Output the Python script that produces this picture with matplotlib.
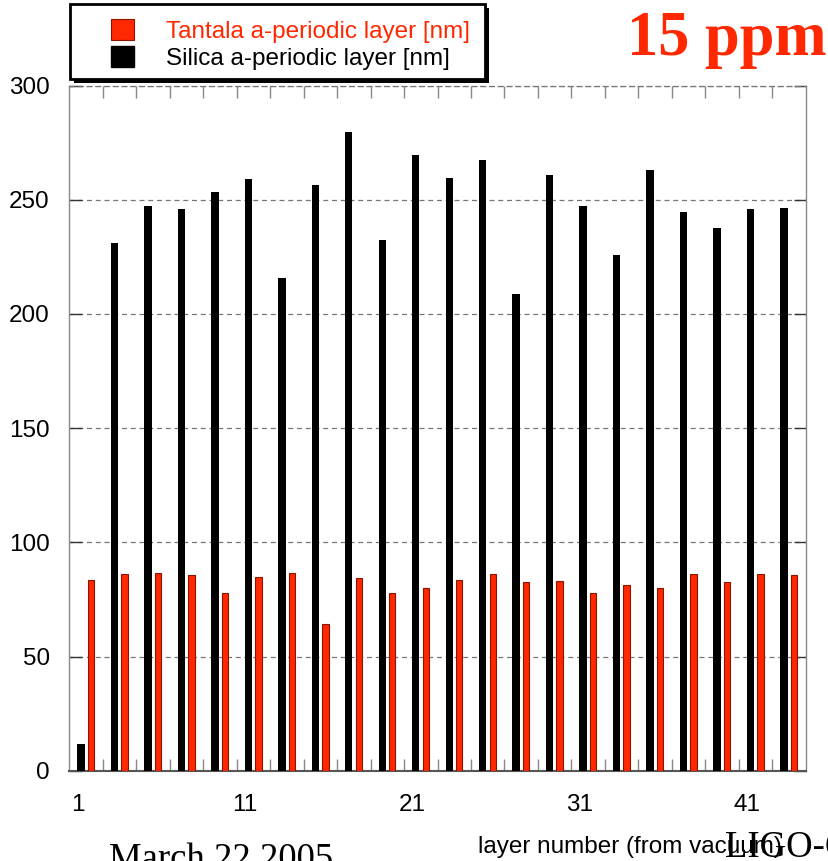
import numpy as np
import matplotlib
matplotlib.use("Agg")
import matplotlib.pyplot as plt
from matplotlib.patches import Patch, Rectangle

plt.rcParams['font.family'] = ['Liberation Sans', 'DejaVu Sans']

# layer thicknesses of the a-periodic stack, numbered from vacuum
silica_layers = np.arange(1, 44, 2)
tantala_layers = np.arange(2, 45, 2)
silica_nm = [11.7, 231.0, 247.1, 246.0, 253.5, 259.2, 215.9, 256.5, 279.7, 232.5, 269.6,
             259.6, 267.5, 208.5, 260.9, 247.4, 225.9, 262.8, 244.7, 237.7, 246.0, 246.5]
tantala_nm = [83.7, 86.3, 86.4, 85.6, 77.7, 84.6, 86.7, 64.4, 84.3, 78.0, 80.2,
              83.5, 86.0, 82.4, 83.1, 78.0, 81.1, 80.2, 86.0, 82.4, 86.0, 85.6]
xtick_labels = [1, 11, 21, 31, 41]

RED = '#ff2800'
W, H = 829, 861

fig = plt.figure(figsize=(W / 100, H / 100), dpi=100)
ax = fig.add_axes([69.3 / W, 1 - 770.7 / H, (805.7 - 69.3) / W, (770.7 - 85.5) / H])

ax.bar(silica_layers + 0.2, silica_nm, width=0.44, color='black', zorder=3)
ax.bar(tantala_layers - 0.2, tantala_nm, width=0.38, color=RED,
       edgecolor='#8a1500', linewidth=0.8, zorder=3)

ax.set_xlim(0.5, 44.5)
ax.set_ylim(0, 300)
ax.set_yticks(np.arange(0, 301, 50))
ax.set_xticks(xtick_labels)
ax.set_xticks(np.arange(2.5, 43, 2), minor=True)

ax.yaxis.grid(True, linestyle=(0, (4, 3)), color='#777777', linewidth=0.9)
ax.set_axisbelow(True)

ax.tick_params(axis='y', which='major', direction='in', length=9, width=1,
               color='#333333', left=True, right=True, labelsize=17.5, pad=14)
ax.tick_params(axis='x', which='major', length=0, labelsize=17.5, pad=17)
ax.tick_params(axis='x', which='minor', direction='in', length=8.6, width=1,
               color='#888888', top=True, bottom=True)

for side in ('left', 'right'):
    ax.spines[side].set_color('#888888')
    ax.spines[side].set_linewidth(1)
ax.spines['top'].set_color('#777777')
ax.spines['top'].set_linestyle((0, (4, 3)))
ax.spines['top'].set_linewidth(0.9)
ax.spines['bottom'].set_color('#555555')
ax.spines['bottom'].set_linestyle((0, (3, 1)))
ax.spines['bottom'].set_linewidth(1.5)

ax.set_xlabel('layer number (from vacuum)', fontsize=17.5, ha='left', va='baseline')
ax.xaxis.set_label_coords((478 - 69.3) / (805.7 - 69.3), -(853 - 770.7) / (770.7 - 85.5))

# legend box with a solid drop shadow
bx, by, bw, bh = 70 / W, 1 - 79 / H, 415 / W, 75 / H
fig.patches.append(Rectangle((bx + 4 / W, by - 4 / H), bw, bh, transform=fig.transFigure,
                             facecolor='black', edgecolor='none', zorder=4))
fig.patches.append(Rectangle((bx, by), bw, bh, transform=fig.transFigure,
                             facecolor='white', edgecolor='black', linewidth=2, zorder=4))

handles = [Patch(facecolor=RED, edgecolor='#8a1500', linewidth=0.8),
           Patch(facecolor='black', edgecolor='black')]
leg = fig.legend(handles, ['Tantala a-periodic layer [nm]', 'Silica a-periodic layer [nm]'],
                 loc='upper left', bbox_to_anchor=(111 / W, 1 - 19 / H), frameon=False,
                 fontsize=17.5, handlelength=0.95, handleheight=0.95, handletextpad=1.3,
                 borderpad=0, borderaxespad=0, labelspacing=0.15)
leg.set_zorder(5)
for txt, col in zip(leg.get_texts(), [RED, 'black']):
    txt.set_color(col)

fig.text(627 / W, 1 - 55 / H, '15 ppm', fontsize=45, fontweight='bold',
         family='Liberation Serif', color=RED, va='baseline', ha='left')
fig.text(109 / W, 1 - 869 / H, 'March 22 2005', fontsize=26.5,
         family='Liberation Serif', va='baseline', ha='left')
fig.text(725 / W, 1 - 857 / H, 'LIGO-G050', fontsize=26.5,
         family='Liberation Serif', va='baseline', ha='left')

fig.savefig('out.png', dpi=100)
